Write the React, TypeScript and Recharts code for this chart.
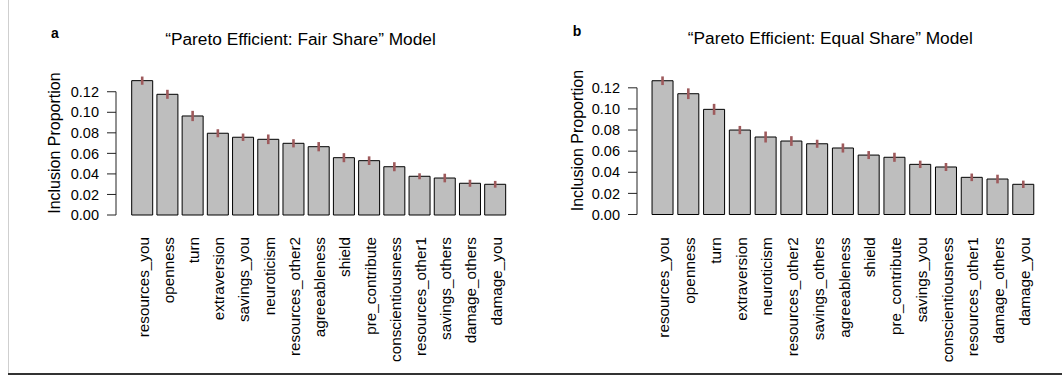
import React from 'react'
import { BarChart, Bar, XAxis, YAxis, ErrorBar } from 'recharts'

// panel a: "Pareto Efficient: Fair Share"
const fairNames = ['resources_you', 'openness', 'turn', 'extraversion', 'savings_you', 'neuroticism', 'resources_other2', 'agreeableness', 'shield', 'pre_contribute', 'conscientiousness', 'resources_other1', 'savings_others', 'damage_others', 'damage_you']
const fairValues = [0.1308, 0.1175, 0.0964, 0.0796, 0.0757, 0.0737, 0.0698, 0.0665, 0.0558, 0.0529, 0.047, 0.0377, 0.036, 0.0309, 0.0299]
const fairErrors = [0.004, 0.0044, 0.005, 0.0039, 0.0036, 0.0047, 0.004, 0.0045, 0.0044, 0.0042, 0.0044, 0.0029, 0.0042, 0.0034, 0.0033]

// panel b: "Pareto Efficient: Equal Share"
const equalNames = ['resources_you', 'openness', 'turn', 'extraversion', 'neuroticism', 'resources_other2', 'savings_others', 'agreeableness', 'shield', 'pre_contribute', 'savings_you', 'conscientiousness', 'resources_other1', 'damage_others', 'damage_you']
const equalValues = [0.1267, 0.1144, 0.0996, 0.08, 0.0734, 0.0696, 0.067, 0.063, 0.0563, 0.0542, 0.0475, 0.045, 0.0352, 0.0336, 0.0286]
const equalErrors = [0.0041, 0.0051, 0.0052, 0.0039, 0.0052, 0.0046, 0.0038, 0.0043, 0.0038, 0.0043, 0.0035, 0.0038, 0.0036, 0.0041, 0.0035]

const yTicks = [0, 0.02, 0.04, 0.06, 0.08, 0.1, 0.12]

const FONT = '"Liberation Sans", Arial, Helvetica, sans-serif'

const build = (names: string[], values: number[], errors: number[]) =>
  names.map((name, i) => ({ name, value: values[i], err: errors[i] }))

const RotTick = (props: any) => {
  const { x, y, payload } = props
  return (
    <text
      x={x}
      y={y}
      transform={`rotate(-90, ${x}, ${y})`}
      textAnchor="end"
      dy="0.42em"
      fontSize={15.3}
      fontFamily={FONT}
      fill="#000"
    >
      {payload.value}
    </text>
  )
}

interface PanelProps {
  data: { name: string, value: number, err: number }[]
  left: number
  letter: string
  title: string
  letterX: number
  letterY: number
  titleX: number
  titleY: number
  axisW: number
  labelOffset: number
  padLeft: number
  marginRight: number
  marginTop: number
  xAxisH: number
  tickGap: number
  axisSkip: number
}

const Panel = (p: PanelProps) => (
  <div style={{ position: 'absolute', left: p.left, top: 0, width: 531, height: 377 }}>
    <BarChart
      width={531}
      height={377}
      data={p.data}
      margin={{ top: p.marginTop, right: p.marginRight, left: 0, bottom: 0 }}
      barCategoryGap="8.33%"
    >
      <XAxis
        dataKey="name"
        interval={0}
        axisLine={false}
        tickLine={false}
        tickSize={0}
        tickMargin={p.tickGap}
        height={p.xAxisH}
        padding={{ left: p.padLeft, right: 0 }}
        tick={<RotTick />}
      />
      <YAxis
        type="number"
        domain={[0, 0.14]}
        ticks={yTicks}
        interval={0}
        tickFormatter={(v: number) => v.toFixed(2)}
        width={p.axisW}
        tickSize={9}
        tickMargin={8}
        stroke="#222"
        axisLine={{ stroke: '#222', strokeDasharray: `0 ${p.axisSkip} 1000` }}
        tick={{ fill: '#000', fontSize: 14.5, fontFamily: FONT }}
        label={{
          value: 'Inclusion Proportion',
          angle: -90,
          position: 'insideLeft',
          offset: p.labelOffset,
          style: { textAnchor: 'middle', fontSize: 16, fontFamily: FONT, fill: '#000' }
        }}
      />
      <Bar dataKey="value" fill="#bebebe" stroke="#000" strokeWidth={1} isAnimationActive={false}>
        <ErrorBar dataKey="err" width={0} stroke="#9e5a5c" strokeWidth={2.6} direction="y" isAnimationActive={false} />
      </Bar>
    </BarChart>
    <svg width={531} height={60} style={{ position: 'absolute', left: 0, top: 0 }}>
      <text x={p.letterX} y={p.letterY} fontSize={14} fontWeight="bold" fontFamily={FONT} fill="#000">{p.letter}</text>
      <text x={p.titleX} y={p.titleY} textAnchor="middle" fontSize={17.3} fontFamily={FONT} fill="#000">{p.title}</text>
    </svg>
  </div>
)

const App = () => (
  <div style={{ position: 'absolute', left: 0, top: 0, width: 1062, height: 377, background: '#fff', fontFamily: FONT }}>
    <div style={{ position: 'absolute', left: 8, top: 0, width: 0, height: 373, borderLeft: '1.5px solid #cfcfcf' }} />
    <div style={{ position: 'absolute', left: 8, top: 372.5, width: 1054, height: 2, background: '#333' }} />
    <Panel
      data={build(fairNames, fairValues, fairErrors)}
      left={0}
      letter="a"
      title="“Pareto Efficient: Fair Share” Model"
      letterX={51}
      letterY={37.5}
      titleX={300.5}
      titleY={44.5}
      axisW={116}
      labelOffset={54}
      padLeft={13.6}
      marginRight={23.2}
      marginTop={71.2}
      xAxisH={162}
      tickGap={22}
      axisSkip={20.5}
    />
    <Panel
      data={build(equalNames, equalValues, equalErrors)}
      left={531}
      letter="b"
      title="“Pareto Efficient: Equal Share” Model"
      letterX={41.7}
      letterY={35.5}
      titleX={299.3}
      titleY={43.5}
      axisW={106}
      labelOffset={46}
      padLeft={12.9}
      marginRight={25.6}
      marginTop={66.7}
      xAxisH={162.5}
      tickGap={22.8}
      axisSkip={21.1}
    />
  </div>
)

export default App
